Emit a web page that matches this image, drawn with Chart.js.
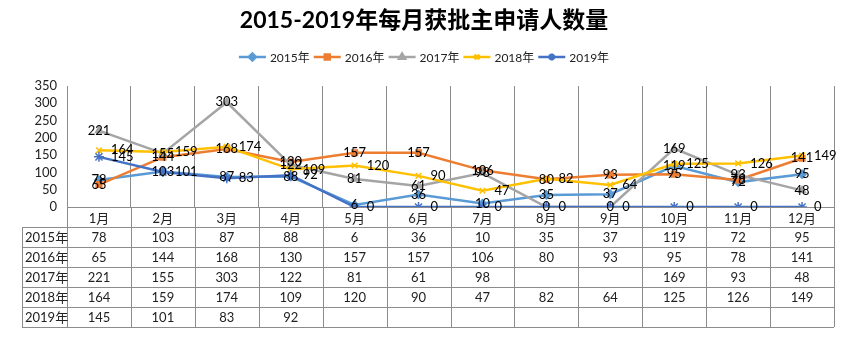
<!DOCTYPE html>
<html>
<head>
<meta charset="utf-8">
<script src="https://cdn.jsdelivr.net/npm/chart.js@4.4.0/dist/chart.umd.min.js"></script>
<style>
  html, body { margin: 0; padding: 0; background: #fff; }
  #chart { display: block; }
</style>
</head>
<body>
<canvas id="chart" width="848" height="340"></canvas>
<script>
const months = ['1月', '2月', '3月', '4月', '5月', '6月', '7月', '8月', '9月', '10月', '11月', '12月'];
const seriesNames = ['2015年', '2016年', '2017年', '2018年', '2019年'];
const y2015 = [78, 103, 87, 88, 6, 36, 10, 35, 37, 119, 72, 95];
const y2016 = [65, 144, 168, 130, 157, 157, 106, 80, 93, 95, 78, 141];
const y2017 = [221, 155, 303, 122, 81, 61, 98, null, null, 169, 93, 48];
const y2018 = [164, 159, 174, 109, 120, 90, 47, 82, 64, 125, 126, 149];
const y2019 = [145, 101, 83, 92, null, null, null, null, null, null, null, null];
const yTicks = [0, 50, 100, 150, 200, 250, 300, 350];

const allSeries = [y2015, y2016, y2017, y2018, y2019];
const colors = ['#5B9BD5', '#ED7D31', '#A5A5A5', '#FFC000', '#4472C4'];
const pointStyles = ['rectRot', 'rect', 'triangle', 'crossRot', 'star'];
const FONT = "Lato, 'Noto Sans CJK SC', sans-serif";
const LINE = '#8c8c8c';

// blank cells in the table are plotted as zero on the chart
const datasets = allSeries.map((vals, i) => ({
    label: seriesNames[i],
    data: vals.map(v => v === null ? 0 : v),
    borderColor: colors[i],
    backgroundColor: colors[i],
    borderWidth: 2.5,
    pointStyle: pointStyles[i],
    pointRadius: i === 4 ? 5 : 4,
    pointBorderWidth: 1.5,
    pointBorderColor: colors[i],
    pointBackgroundColor: colors[i],
    tension: 0,
    order: 4 - i
}));

// title and legend at the top
const headerPlugin = {
    id: 'header',
    afterDraw(chart) {
        const ctx = chart.ctx;
        ctx.save();
        ctx.fillStyle = '#000';
        ctx.font = "bold 23px " + FONT;
        ctx.textAlign = 'center';
        ctx.textBaseline = 'middle';
        ctx.fillText('2015-2019年每月获批主申请人数量', 424, 21);

        ctx.font = "12px " + FONT;
        const lineW = 27, gap = 4, itemGap = 4;
        const widths = seriesNames.map(n => lineW + gap + ctx.measureText(n).width);
        const total = widths.reduce((a, b) => a + b, 0) + itemGap * (seriesNames.length - 1);
        let x = 424 - total / 2;
        const y = 57;
        seriesNames.forEach((name, i) => {
            ctx.strokeStyle = colors[i];
            ctx.lineWidth = 2.5;
            ctx.beginPath();
            ctx.moveTo(x, y);
            ctx.lineTo(x + lineW, y);
            ctx.stroke();
            ctx.fillStyle = colors[i];
            ctx.strokeStyle = colors[i];
            Chart.helpers.drawPoint(ctx, {
                pointStyle: pointStyles[i], radius: 3.5, borderWidth: 1.5
            }, x + lineW / 2, y);
            ctx.fillStyle = '#222';
            ctx.textAlign = 'left';
            ctx.fillText(name, x + lineW + gap, y + 1);
            x += widths[i] + itemGap;
        });
        ctx.restore();
    }
};

// value labels next to the points
const valueLabels = {
    id: 'valueLabels',
    afterDatasetsDraw(chart) {
        const ctx = chart.ctx;
        ctx.save();
        ctx.font = "13px " + FONT;
        ctx.fillStyle = '#000';
        ctx.textBaseline = 'middle';
        chart.data.datasets.forEach((ds, i) => {
            const meta = chart.getDatasetMeta(i);
            meta.data.forEach((pt, j) => {
                if (i < 3) {
                    ctx.textAlign = 'center';
                    ctx.fillText(ds.data[j], pt.x, pt.y);
                } else {
                    ctx.textAlign = 'left';
                    ctx.fillText(ds.data[j], pt.x + 12, pt.y);
                }
            });
        });
        ctx.restore();
    }
};

// data table under the axis
const dataTable = {
    id: 'dataTable',
    afterDraw(chart) {
        const ctx = chart.ctx;
        const xs = chart.scales.x;
        const area = chart.chartArea;
        const rowH = 20;
        const tableTop = area.bottom + 20;
        const tableLeft = 22;
        const colW = xs.getPixelForValue(1) - xs.getPixelForValue(0);
        const bottom = tableTop + rowH * allSeries.length;

        ctx.save();
        ctx.strokeStyle = LINE;
        ctx.lineWidth = 1;
        ctx.beginPath();
        for (let r = 0; r <= allSeries.length; r++) {
            const y = Math.round(tableTop + r * rowH) + 0.5;
            ctx.moveTo(tableLeft, y);
            ctx.lineTo(area.right, y);
        }
        ctx.moveTo(tableLeft + 0.5, tableTop);
        ctx.lineTo(tableLeft + 0.5, bottom);
        for (let c = 0; c <= months.length; c++) {
            const x = Math.round(xs.getPixelForValue(c) - colW / 2) + 0.5;
            ctx.moveTo(x, area.bottom);
            ctx.lineTo(x, bottom);
        }
        ctx.stroke();

        ctx.font = "13px " + FONT;
        ctx.fillStyle = '#222';
        ctx.textBaseline = 'middle';
        allSeries.forEach((vals, r) => {
            const cy = tableTop + r * rowH + rowH / 2 + 1;
            ctx.textAlign = 'left';
            ctx.fillText(seriesNames[r], tableLeft + 3, cy);
            ctx.textAlign = 'center';
            vals.forEach((v, c) => {
                if (v !== null) ctx.fillText(v, xs.getPixelForValue(c), cy);
            });
        });
        ctx.restore();
    }
};

new Chart(document.getElementById('chart').getContext('2d'), {
    type: 'line',
    data: { labels: months, datasets },
    options: {
        responsive: false,
        animation: false,
        layout: { padding: { top: 86, left: 0, right: 14, bottom: 113 } },
        plugins: {
            legend: { display: false },
            title: { display: false },
            tooltip: { enabled: false }
        },
        scales: {
            x: {
                offset: true,
                grid: { display: true, offset: true, color: LINE, drawTicks: false },
                border: { display: true, color: LINE, width: 1 },
                ticks: { color: '#222', font: { size: 13, family: FONT }, padding: 4, maxRotation: 0 },
                afterFit(scale) { scale.height = 20; }
            },
            y: {
                min: 0,
                max: 350,
                grid: { display: false, drawTicks: false },
                border: { display: false },
                afterBuildTicks(scale) { scale.ticks = yTicks.map(v => ({ value: v })); },
                ticks: { color: '#222', font: { size: 13, family: FONT }, padding: 10, autoSkip: false },
                afterFit(scale) { scale.width = 67; }
            }
        }
    },
    plugins: [headerPlugin, valueLabels, dataTable]
});
</script>
</body>
</html>
